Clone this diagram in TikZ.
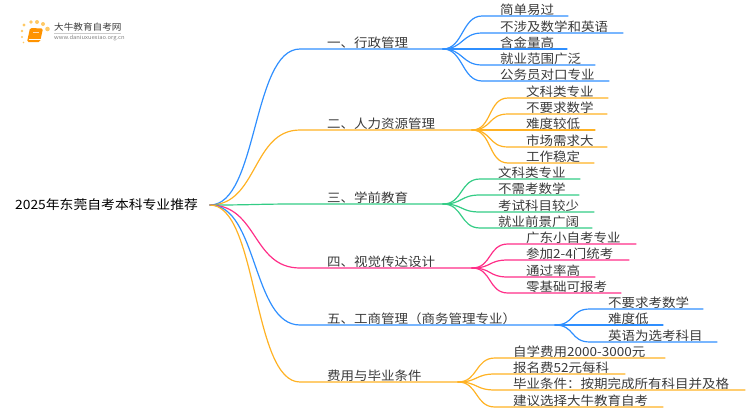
\documentclass[tikz,border=0pt]{standalone}
\usepackage{fontspec}
\setmainfont[FakeStretch=1.08]{Noto Sans CJK SC}
\definecolor{treeblue}{HTML}{2F8FFF}
\definecolor{treeorange}{HTML}{FFB224}
\definecolor{treegreen}{HTML}{33CC85}
\definecolor{treepink}{HTML}{FF2E88}
\definecolor{treetext}{HTML}{3A3A3A}
\tikzset{
        every node/.style={inner sep=0pt, text=treetext, font=\fontsize{12.5}{14}\selectfont},
        leaf/.style={anchor=west},
        branch/.style={anchor=west},
        root/.style={anchor=west, font=\fontsize{12.8}{14}\selectfont, text=black},
        edge/.style={line width=1.2pt, line cap=round},
        logotitle/.style={anchor=west, font=\fontsize{8.9}{10}\selectfont},
        logourl/.style={anchor=west, font=\fontsize{5.4}{6}\selectfont, text=gray}
          }

\begin{document}
\begin{tikzpicture}[x=1pt, y=-1pt]
      \useasboundingbox (0,0) rectangle (750,410);
      % logo
      \foreach \dx/\dy/\dr in {24/25/1.6, 31/22/1.9, 37/22/2, 43/24/2, 47.5/29/2.3, 22/31/1.3, 22/37/1.1, 23.5/42.5/0.9}
        \fill[treeorange!70!white] (\dx,\dy) circle (\dr);
      \fill[orange!85!yellow, rounded corners=1.5pt] (30,28) -- (43,28.5) -- (40,42) -- (27,42) -- cycle;
      \draw[white, line width=0.6pt] (28.5,39.5) -- (40.5,39.5);
      \draw[white!70!orange, line width=0.6pt] (33,32) -- (39,32);
      \node[logotitle] (logotitle) at (54,27) {大牛教育自考网};
      \node[logourl] (logourl) at (54,38.5) {www.daniuxuexiao.org.cn};
      \draw[gray!40, line width=0.5pt] (54,33) -- (121,33);

      \node[root] (rootnode) at (15,204.5) {2025年东莞自考本科专业推荐};
      \coordinate (hub) at (210,205);

      % branches
      \foreach \name/\tone/\ytop/\xhub/\txt in {
          admin/treeblue/49/443/一、行政管理,
          staff/treeorange/130/472/二、人力资源管理,
          teach/treegreen/204/443/三、学前教育,
          visual/treepink/268/472/四、视觉传达设计,
          trade/treeblue/325/555/五、工商管理（商务管理专业）,
          cost/treeorange/382/458/费用与毕业条件}{
        \node[branch] (\name) at (327,\ytop-6) {\txt};
        \coordinate (\name bend) at (300,\ytop);
        \coordinate (\name hub) at (\xhub,\ytop);
        \draw[edge, \tone] (hub) .. controls +(48,0) and +(-48,0) .. (\name bend) -- (\name hub);
      }

      % leaves of each branch
      \foreach \n/\ly/\xend/\txt in {1/16/568/简单易过, 2/33/623/不涉及数学和英语, 3/49/567/含金量高, 4/65/595/就业范围广泛, 5/81/609/公务员对口专业}{
        \node[leaf] (admin\n) at (500,\ly-6.3) {\txt};
        \coordinate (admin\n s) at (482,\ly);
        \coordinate (admin\n e) at (\xend,\ly);
        \draw[edge, treeblue] (adminhub) .. controls +(20,0) and +(-20,0) .. (admin\n s) -- (admin\n e);
      }
      \foreach \n/\ly/\xend/\txt in {1/98/608/文科类专业, 2/114/607/不要求数学, 3/130/595/难度较低, 4/147/607/市场需求大, 5/163/594/工作稳定}{
        \node[leaf] (staff\n) at (526,\ly-6.3) {\txt};
        \coordinate (staff\n s) at (508,\ly);
        \coordinate (staff\n e) at (\xend,\ly);
        \draw[edge, treeorange] (staffhub) .. controls +(20,0) and +(-20,0) .. (staff\n s) -- (staff\n e);
      }
      \foreach \n/\ly/\xend/\txt in {1/179/580/文科类专业, 2/195/579/不需考数学, 3/212/594/考试科目较少, 4/228/592/就业前景广阔}{
        \node[leaf] (teach\n) at (498,\ly-6.3) {\txt};
        \coordinate (teach\n s) at (480,\ly);
        \coordinate (teach\n e) at (\xend,\ly);
        \draw[edge, treegreen] (teachhub) .. controls +(20,0) and +(-20,0) .. (teach\n s) -- (teach\n e);
      }
      \foreach \n/\ly/\xend/\txt in {1/244/636/广东小自考专业, 2/260/629/参加2-4门统考, 3/277/595/通过率高, 4/293/621/零基础可报考}{
        \node[leaf] (visual\n) at (526,\ly-6.3) {\txt};
        \coordinate (visual\n s) at (508,\ly);
        \coordinate (visual\n e) at (\xend,\ly);
        \draw[edge, treepink] (visualhub) .. controls +(20,0) and +(-20,0) .. (visual\n s) -- (visual\n e);
      }
      \foreach \n/\ly/\xend/\txt in {1/309/703/不要求考数学, 2/325/663/难度低, 3/342/717/英语为选考科目}{
        \node[leaf] (trade\n) at (608,\ly-6.3) {\txt};
        \coordinate (trade\n s) at (590,\ly);
        \coordinate (trade\n e) at (\xend,\ly);
        \draw[edge, treeblue] (tradehub) .. controls +(20,0) and +(-20,0) .. (trade\n s) -- (trade\n e);
      }
      \foreach \n/\ly/\xend/\txt in {1/358/665/自学费用2000-3000元, 2/374/625/报名费52元每科, 3/390/745/毕业条件：按期完成所有科目并及格, 4/407/663/建议选择大牛教育自考}{
        \node[leaf] (cost\n) at (513,\ly-6.3) {\txt};
        \coordinate (cost\n s) at (495,\ly);
        \coordinate (cost\n e) at (\xend,\ly);
        \draw[edge, treeorange] (costhub) .. controls +(20,0) and +(-20,0) .. (cost\n s) -- (cost\n e);
      }
    \end{tikzpicture}
\end{document}
